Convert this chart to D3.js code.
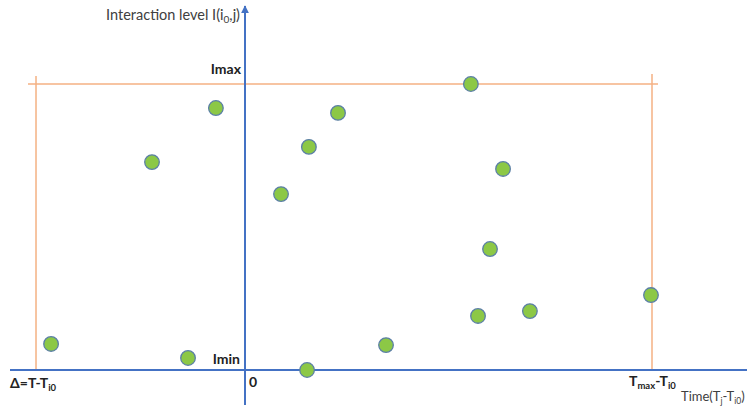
<!DOCTYPE html>
<html>
<head>
<meta charset="utf-8">
<script src="https://cdn.jsdelivr.net/npm/d3@7"></script>
<style>
    body { margin: 0; background: #fff; }
    svg text { font-family: Lato, "Noto Sans", sans-serif; }
    .lbl { fill: #404040; font-size: 14.5px; }
    .bold { fill: #222; font-size: 14px; font-weight: bold; }
</style>
</head>
<body>
<div id="chart"></div>
<script>
// time relative to T_i0, interaction level between Imin (0) and Imax (10)
const timeValues  = [-9.53, -4.57, -1.43, -2.80, 1.77, 3.14, 4.57, 3.05, 6.93, 11.1, 12.68, 12.04, 11.45, 14.0, 19.95];
const levelValues = [0.91, 7.27, 9.16, 0.42, 6.15, 7.80, 8.99, 0.0, 0.87, 10.0, 7.03, 4.23, 1.89, 2.06, 2.62];
const timeMarks = [-10.27, 0, 20];   // Δ, 0, Tmax - Ti0
const levelMarks = [0, 10];         // Imin, Imax

const width = 747, height = 410;

let svg = d3.select("#chart").append("svg")
    .attr("width", width)
    .attr("height", height);

let xScale = d3.scaleLinear().domain([0, 20]).range([245, 652]);
let yScale = d3.scaleLinear().domain([0, 10]).range([370, 84]);

svg.append("defs").append("marker")
    .attr("id", "arrow")
    .attr("viewBox", "0 0 10 10")
    .attr("refX", 9).attr("refY", 5)
    .attr("markerWidth", 4).attr("markerHeight", 4)
    .attr("orient", "auto")
    .append("path")
    .attr("d", "M0,0 L10,5 L0,10 Z")
    .attr("fill", "#4472C4");

//orange bounding lines
let orange = "#F4B183";
svg.append("line")
    .attr("x1", xScale(timeMarks[0]) - 8).attr("x2", xScale(timeMarks[2]) + 6)
    .attr("y1", yScale(levelMarks[1])).attr("y2", yScale(levelMarks[1]))
    .attr("stroke", orange).attr("stroke-width", 1.5);
svg.append("line")
    .attr("x1", xScale(timeMarks[0])).attr("x2", xScale(timeMarks[0]))
    .attr("y1", yScale(levelMarks[1]) - 8).attr("y2", yScale(levelMarks[0]))
    .attr("stroke", orange).attr("stroke-width", 1.5);
svg.append("line")
    .attr("x1", xScale(timeMarks[2])).attr("x2", xScale(timeMarks[2]))
    .attr("y1", yScale(levelMarks[1]) - 10).attr("y2", yScale(levelMarks[0]))
    .attr("stroke", orange).attr("stroke-width", 1.5);

//axes
svg.append("line")
    .attr("x1", 10).attr("x2", width)
    .attr("y1", yScale(0)).attr("y2", yScale(0))
    .attr("stroke", "#4472C4").attr("stroke-width", 2);
svg.append("line")
    .attr("x1", xScale(0)).attr("x2", xScale(0))
    .attr("y1", 405).attr("y2", 6)
    .attr("stroke", "#4472C4").attr("stroke-width", 2)
    .attr("marker-end", "url(#arrow)");

//points
svg.append("g").selectAll("circle")
    .data(timeValues.map((t, i) => [t, levelValues[i]]))
    .enter().append("circle")
    .attr("cx", d => xScale(d[0]))
    .attr("cy", d => yScale(d[1]))
    .attr("r", 7.3)
    .attr("fill", "#8CC846")
    .attr("stroke", "#5B7FA6")
    .attr("stroke-width", 1.3);

//labels
let yl = svg.append("text").attr("class", "lbl")
    .attr("x", 240).attr("y", 20).attr("text-anchor", "end");
yl.append("tspan").text("Interaction level I(i");
yl.append("tspan").attr("font-size", 10).attr("dy", 3).text("0");
yl.append("tspan").attr("dy", -3).text(",j)");

svg.append("text").attr("class", "bold")
    .attr("x", 241).attr("y", yScale(10) - 10).attr("text-anchor", "end").text("Imax");
svg.append("text").attr("class", "bold")
    .attr("x", 240).attr("y", yScale(0) - 6).attr("text-anchor", "end").text("Imin");
svg.append("text").attr("class", "bold")
    .attr("x", xScale(0) + 4).attr("y", 387).text("0");

let dl = svg.append("text").attr("class", "bold").attr("x", 10).attr("y", 388);
dl.append("tspan").text("Δ=T-T");
dl.append("tspan").attr("font-size", 9.5).attr("dy", 3).text("i0");

let tl = svg.append("text").attr("class", "bold").attr("x", 629).attr("y", 386);
tl.append("tspan").text("T");
tl.append("tspan").attr("font-size", 9.5).attr("dy", 3).text("max");
tl.append("tspan").attr("dy", -3).text("-T");
tl.append("tspan").attr("font-size", 9.5).attr("dy", 3).text("i0");

//kept inside the window, slightly smaller than the other label
let xl = svg.append("text").attr("class", "lbl").attr("font-size", 13)
    .attr("style", "font-size:13px").attr("x", 681).attr("y", 401);
xl.append("tspan").text("Time(T");
xl.append("tspan").attr("font-size", 8.5).attr("dy", 3).text("j");
xl.append("tspan").attr("dy", -3).text("-T");
xl.append("tspan").attr("font-size", 8.5).attr("dy", 3).text("i0");
xl.append("tspan").attr("dy", -3).text(")");
</script>
</body>
</html>
